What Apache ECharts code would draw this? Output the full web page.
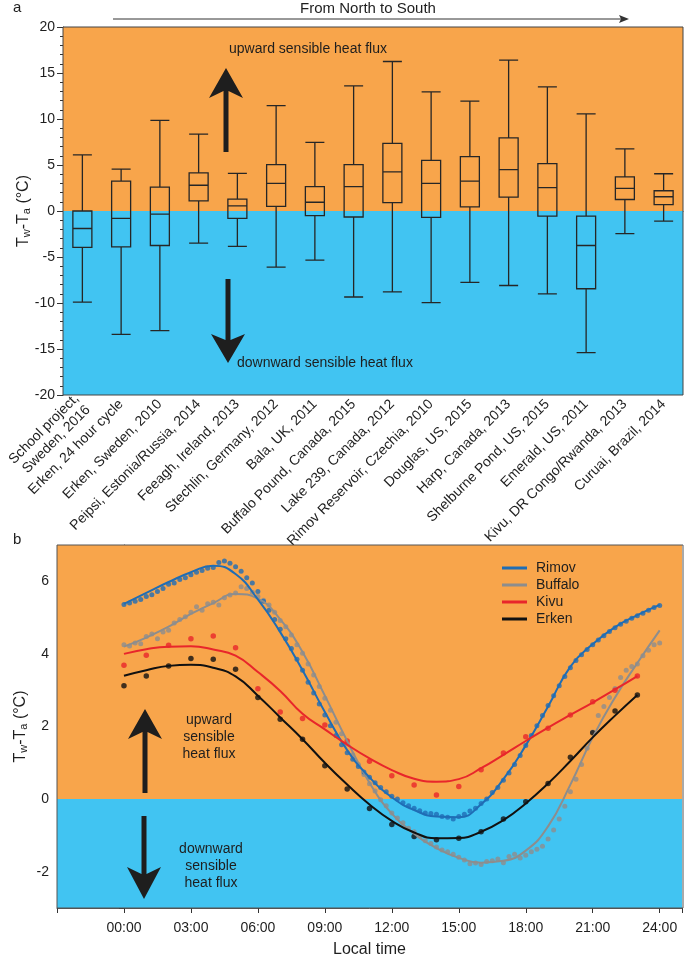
<!DOCTYPE html>
<html><head><meta charset="utf-8">
<script src="https://cdn.jsdelivr.net/npm/echarts@6/dist/echarts.min.js"></script>
<style>html,body{margin:0;padding:0;background:#fff}#c{width:685px;height:959px}</style>
</head><body><div id="c"></div>
<script>
const FONT = '"Liberation Sans", Arial, Helvetica, sans-serif';
const ORANGE = '#F8A54B', BLUE = '#41C4F2', INK = '#1e1e1e';

// ---------- panel a : box plots ----------
const categories = ['School project,\nSweden, 2016', 'Erken, 24 hour cycle', 'Erken, Sweden, 2010',
  'Peipsi, Estonia/Russia, 2014', 'Feeagh, Ireland, 2013', 'Stechlin, Germany, 2012', 'Bala, UK, 2011',
  'Buffalo Pound, Canada, 2015', 'Lake 239, Canada, 2012', 'Rimov Reservoir, Czechia, 2010',
  'Douglas, US, 2015', 'Harp, Canada, 2013', 'Shelburne Pond, US, 2015', 'Emerald, US, 2011',
  'Kivu, DR Congo/Rwanda, 2013', 'Curuai, Brazil, 2014'];
const boxMin = [-9.9, -13.4, -13.0, -3.5, -3.85, -6.1, -5.35, -9.35, -8.8, -9.95, -7.75, -8.1, -9.0, -15.4, -2.45, -1.1];
const boxQ1  = [-3.95, -3.9, -3.75, 1.1, -0.8, 0.5, -0.5, -0.65, 0.9, -0.7, 0.45, 1.5, -0.55, -8.45, 1.25, 0.7];
const boxMed = [-1.9, -0.8, -0.35, 2.8, 0.55, 3.0, 0.95, 2.65, 4.25, 3.0, 3.25, 4.5, 2.55, -3.75, 2.45, 1.55];
const boxQ3  = [0.0, 3.25, 2.6, 4.15, 1.3, 5.05, 2.65, 5.05, 7.35, 5.5, 5.9, 7.95, 5.15, -0.55, 3.7, 2.2];
const boxMax = [6.1, 4.55, 9.85, 8.35, 4.1, 11.45, 7.45, 13.6, 16.25, 12.95, 11.95, 16.4, 13.5, 10.55, 6.75, 4.05];
const yTicksA = {min: -20, max: 20, interval: 5};

// ---------- panel b : diurnal cycles ----------
const fitHours24 = [0,1,2,3,4,5,6,7,8,9,10,11,12,13,14,15,16,17,18,19,20,21,22,23,24];
const fitHours23 = [0,1,2,3,4,5,6,7,8,9,10,11,12,13,14,15,16,17,18,19,20,21,22,23];
const rimovFit   = [5.38,5.68,5.98,6.25,6.43,6.2,5.5,4.6,3.55,2.4,1.35,0.6,0.05,-0.3,-0.48,-0.5,-0.14,0.55,1.48,2.55,3.65,4.27,4.74,5.07,5.35];
const buffaloFit = [4.2,4.45,4.75,5.1,5.4,5.65,5.52,4.95,4.05,2.85,1.6,0.45,-0.4,-0.95,-1.35,-1.62,-1.75,-1.7,-1.42,-0.75,0.4,1.7,2.8,3.75,4.65];
const kivuFit    = [4.0,4.13,4.2,4.21,4.12,3.95,3.5,2.98,2.35,1.92,1.5,1.12,0.8,0.56,0.48,0.55,0.85,1.22,1.6,1.97,2.32,2.66,3.02,3.39];
const erkenFit   = [3.4,3.55,3.67,3.7,3.62,3.38,2.85,2.25,1.65,1.0,0.4,-0.15,-0.6,-0.92,-1.08,-1.07,-0.9,-0.58,-0.12,0.43,1.05,1.7,2.3,2.87];
const kivuObs    = [3.69,3.96,4.24,4.42,4.49,4.17,3.04,2.4,2.22,2.04,1.6,1.04,0.64,0.39,0.11,0.35,0.81,1.27,1.72,1.95,2.32,2.68,3.0,3.39];
const erkenObs   = [3.12,3.39,3.67,3.87,3.85,3.58,2.8,2.2,1.65,0.92,0.28,-0.26,-0.7,-1.03,-1.12,-1.08,-0.9,-0.55,-0.07,0.43,1.15,1.83,2.43,2.87];
// 15-minute observations, 00:00 .. 24:00
const rimovObs = [5.36,5.40,5.45,5.50,5.58,5.63,5.72,5.80,5.92,5.95,6.05,6.10,6.18,6.25,6.30,6.36,
  6.38,6.52,6.56,6.50,6.40,6.28,6.10,5.95,5.72,5.45,5.20,4.95,4.68,4.42,4.15,3.85,
  3.55,3.22,2.92,2.62,2.32,2.02,1.75,1.50,1.28,1.10,0.90,0.75,0.60,0.45,0.32,0.20,
  0.08,0.00,-0.10,-0.18,-0.25,-0.32,-0.38,-0.40,-0.42,-0.48,-0.50,-0.55,-0.48,-0.42,-0.33,-0.25,
  -0.12,0.00,0.18,0.32,0.52,0.72,0.95,1.20,1.48,1.75,2.02,2.30,2.58,2.85,3.12,3.38,
  3.62,3.82,3.98,4.12,4.25,4.38,4.50,4.62,4.72,4.82,4.90,4.98,5.05,5.12,5.20,5.28,5.33];
const buffaloObs = [4.25,4.22,4.30,4.28,4.48,4.55,4.42,4.60,4.65,4.85,4.95,5.02,5.15,5.30,5.20,5.38,
  5.42,5.35,5.55,5.62,5.68,5.85,5.80,5.70,5.58,5.48,5.35,5.15,4.92,4.75,4.52,4.25,
  4.02,3.72,3.42,3.10,2.78,2.45,2.12,1.80,1.52,1.22,0.95,0.68,0.42,0.22,-0.02,-0.18,
  -0.38,-0.52,-0.65,-0.80,-0.90,-1.02,-1.15,-1.22,-1.32,-1.40,-1.45,-1.52,-1.60,-1.68,-1.78,-1.76,
  -1.80,-1.72,-1.70,-1.65,-1.75,-1.58,-1.52,-1.62,-1.55,-1.45,-1.38,-1.30,-1.10,-0.85,-0.55,-0.20,
  0.20,0.55,0.95,1.40,1.85,2.30,2.55,2.80,3.05,3.35,3.55,3.65,3.72,3.95,4.10,4.25,4.30];
const timeTicks = {min: -3, max: 25, interval: 3};
const yTicksB = {min: -3, max: 7, interval: 1};

const pairs = (xs, ys) => ys.map((v, i) => [xs[i], v]);
const quarter = ys => ys.map((v, i) => [i / 4, v]);
const pad = n => (n < 10 ? '0' : '') + n;

const chart = echarts.init(document.getElementById('c'));

// grid boxes (px)
const GA = {left: 63, top: 27, width: 620, height: 368};
const GB = {left: 57, top: 545, width: 626, height: 363};

function arrow(x, tipY, baseY, notchY, endY, hw, w) {
  const pts = [[x, tipY], [x + hw, baseY], [x + w / 2, notchY], [x + w / 2, endY],
               [x - w / 2, endY], [x - w / 2, notchY], [x - hw, baseY]];
  return {type: 'polygon', shape: {points: pts}, style: {fill: INK}, z: 50, silent: true};
}

const txt = (x, y, s, opt) => Object.assign({type: 'text', x, y, z: 50, silent: true,
  style: Object.assign({text: s, font: '14px ' + FONT, fill: INK, align: 'left', verticalAlign: 'middle'}, opt || {})});

const axisNameRich = {
  fontSize: 16, fontFamily: FONT, color: INK,
  rich: {sub: {fontSize: 11, fontFamily: FONT, color: INK, verticalAlign: 'bottom', padding: [6, 0, 0, 0]}}
};

const bgSeries = (xi, yr) => ({type: 'line', xAxisIndex: xi, yAxisIndex: xi, data: [], z: 1, silent: true,
  symbol: 'none', showSymbol: false, lineStyle: {width: 0},
  markArea: {silent: true, data: [
    [{yAxis: 0, itemStyle: {color: ORANGE}}, {yAxis: yr.max}],
    [{yAxis: yr.min, itemStyle: {color: BLUE}}, {yAxis: 0}]]}});

chart.setOption({
  animation: false,
  textStyle: {fontFamily: FONT},
  grid: [
    Object.assign({containLabel: false}, GA),
    Object.assign({containLabel: false}, GB)
  ],
  legend: {
    data: ['Rimov', 'Buffalo', 'Kivu', 'Erken'],
    orient: 'vertical', left: 497, top: 556, itemWidth: 25, itemHeight: 3, itemGap: 3,
    icon: 'rect', textStyle: {fontSize: 14, color: INK, fontFamily: FONT, padding: [0, 0, 0, 4]}
  },
  xAxis: [
    {type: 'category', gridIndex: 0, data: categories, boundaryGap: true,
     axisLine: {show: true, lineStyle: {color: '#333', width: 1}}, axisTick: {show: false},
     axisLabel: {interval: 0, rotate: 45, fontSize: 14, color: INK, margin: 7, fontFamily: FONT, lineHeight: 16},
     splitLine: {show: false}},
    {type: 'value', gridIndex: 1, min: timeTicks.min, max: timeTicks.max, interval: timeTicks.interval,
     name: 'Local time', nameLocation: 'middle', nameGap: 34,
     nameTextStyle: {fontSize: 16, color: INK, fontFamily: FONT},
     axisLine: {show: true, onZero: false, lineStyle: {color: '#555', width: 1}},
     axisTick: {show: true, length: 5, lineStyle: {color: '#333'}},
     axisLabel: {fontSize: 14, color: INK, margin: 13, fontFamily: FONT,
       formatter: v => (v < 0 || v > 24 || v % 3) ? '' : pad(v) + ':00'},
     splitLine: {show: false}}
  ],
  yAxis: [
    {type: 'value', gridIndex: 0, min: yTicksA.min, max: yTicksA.max, interval: yTicksA.interval,
     name: 'T{sub|w}-T{sub|a} (°C)', nameLocation: 'middle', nameGap: 31, nameMoveOverlap: false,
     nameTextStyle: axisNameRich,
     axisLine: {show: true, lineStyle: {color: '#333', width: 1}},
     axisTick: {show: true, length: 6, lineStyle: {color: '#333'}},
     minorTick: {show: true, splitNumber: 5, length: 3, lineStyle: {color: '#333'}},
     axisLabel: {fontSize: 14, color: INK, margin: 8, fontFamily: FONT},
     splitLine: {show: false}, minorSplitLine: {show: false}},
    {type: 'value', gridIndex: 1, min: yTicksB.min, max: yTicksB.max, interval: yTicksB.interval,
     name: 'T{sub|w}-T{sub|a} (°C)', nameLocation: 'middle', nameGap: 28, nameMoveOverlap: false,
     nameTextStyle: axisNameRich,
     axisLine: {show: true, lineStyle: {color: '#333', width: 1}},
     axisTick: {show: true, length: 5, lineStyle: {color: '#333'}},
     axisLabel: {fontSize: 14, color: INK, margin: 8, fontFamily: FONT, formatter: v => (v % 2 === 0 ? String(v) : '')},
     splitLine: {show: false}}
  ],
  series: [
    bgSeries(0, yTicksA),
    {type: 'boxplot', xAxisIndex: 0, yAxisIndex: 0, z: 5, boxWidth: [19, 19],
     itemStyle: {color: 'rgba(0,0,0,0)', borderColor: '#262626', borderWidth: 1.3},
     data: categories.map((c, i) => [boxMin[i], boxQ1[i], boxMed[i], boxQ3[i], boxMax[i]])},

    bgSeries(1, yTicksB),
    {name: 'Buffalo obs', type: 'scatter', xAxisIndex: 1, yAxisIndex: 1, z: 3, symbolSize: 5,
     itemStyle: {color: '#8d8d8d'}, data: quarter(buffaloObs)},
    {name: 'Rimov obs', type: 'scatter', xAxisIndex: 1, yAxisIndex: 1, z: 3, symbolSize: 5,
     itemStyle: {color: '#1f6db5'}, data: quarter(rimovObs)},
    {name: 'Kivu obs', type: 'scatter', xAxisIndex: 1, yAxisIndex: 1, z: 3, symbolSize: 5.5,
     itemStyle: {color: '#e8262b'}, data: pairs(fitHours23, kivuObs)},
    {name: 'Erken obs', type: 'scatter', xAxisIndex: 1, yAxisIndex: 1, z: 3, symbolSize: 5.5,
     itemStyle: {color: '#111'}, data: pairs(fitHours23, erkenObs)},
    {name: 'Buffalo', type: 'line', xAxisIndex: 1, yAxisIndex: 1, z: 4, smooth: 0.5, symbol: 'none',
     lineStyle: {color: '#8d8d8d', width: 2}, itemStyle: {color: '#8d8d8d'}, data: pairs(fitHours24, buffaloFit)},
    {name: 'Rimov', type: 'line', xAxisIndex: 1, yAxisIndex: 1, z: 4, smooth: 0.5, symbol: 'none',
     lineStyle: {color: '#1f6db5', width: 2}, itemStyle: {color: '#1f6db5'}, data: pairs(fitHours24, rimovFit)},
    {name: 'Kivu', type: 'line', xAxisIndex: 1, yAxisIndex: 1, z: 4, smooth: 0.5, symbol: 'none',
     lineStyle: {color: '#e8262b', width: 2}, itemStyle: {color: '#e8262b'}, data: pairs(fitHours23, kivuFit)},
    {name: 'Erken', type: 'line', xAxisIndex: 1, yAxisIndex: 1, z: 4, smooth: 0.5, symbol: 'none',
     lineStyle: {color: '#111', width: 2}, itemStyle: {color: '#111'}, data: pairs(fitHours23, erkenFit)}
  ],
  graphic: [
    {type: 'rect', shape: {x: GA.left, y: GA.top, width: GA.width, height: GA.height}, z: 40, silent: true,
     style: {fill: null, stroke: '#444', lineWidth: 1}},
    {type: 'rect', shape: {x: GB.left, y: GB.top, width: GB.width, height: GB.height}, z: 40, silent: true,
     style: {fill: null, stroke: '#555', lineWidth: 1}},
    txt(13, 8, 'a', {font: '15px ' + FONT}),
    txt(13, 540, 'b', {font: '15px ' + FONT}),
    {type: 'line', shape: {x1: 113, y1: 19, x2: 622, y2: 19}, z: 50, silent: true, style: {stroke: '#333', lineWidth: 1}},
    {type: 'polygon', shape: {points: [[629, 19], [619, 15], [621, 19], [619, 23]]}, z: 50, silent: true, style: {fill: '#333'}},
    txt(368, 9, 'From North to South', {font: '15px ' + FONT, align: 'center'}),
    arrow(226, 68, 98, 91, 152, 17, 5),
    arrow(228, 363, 334, 340, 279, 17, 5),
    txt(229, 49, 'upward sensible heat flux'),
    txt(237, 363, 'downward sensible heat flux'),
    arrow(145, 709, 739, 732, 793, 17, 5),
    arrow(144, 899, 867, 874, 816, 17, 5),
    txt(209, 737, 'upward\nsensible\nheat flux', {align: 'center', lineHeight: 17}),
    txt(211, 866, 'downward\nsensible\nheat flux', {align: 'center', lineHeight: 17})
  ]
});
</script></body></html>
